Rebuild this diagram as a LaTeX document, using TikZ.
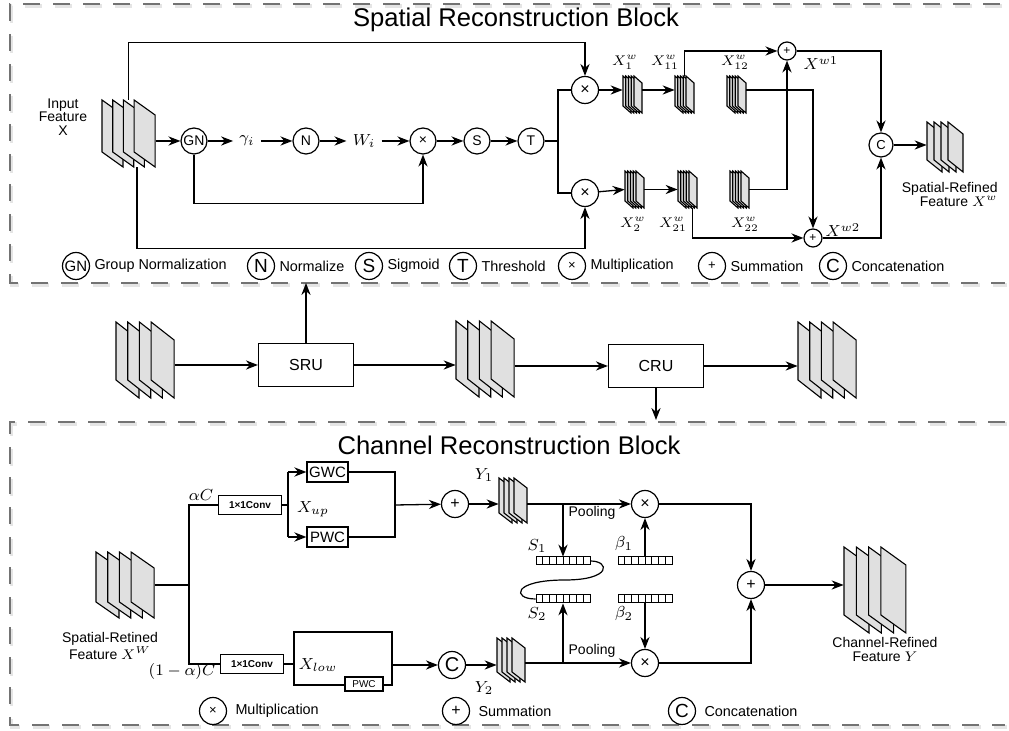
\documentclass[tikz,border=0pt]{standalone}
\usepackage{fontspec}
\setmainfont{Liberation Sans}
\usepackage{tikz}
\usetikzlibrary{positioning,calc,fit,arrows.meta}
\tikzset{
  frame/.style     = {draw=black!55, line width=1pt, dash pattern=on 8.5pt off 6.5pt},
  frameshade/.style= {draw=black!10, line width=1.6pt, dash pattern=on 8.5pt off 6.5pt},
  sheet/.style     = {draw=black, fill=black!12, line width=0.55pt, line join=miter},
  cell/.style      = {draw=black, fill=white, line width=0.5pt},
  box/.style       = {inner sep=0pt, draw=none},
  op/.style        = {circle, draw, line width=0.6pt, minimum size=13pt, inner sep=0pt, font=\fontsize{7}{8}\selectfont},
  opsm/.style      = {op, minimum size=9pt, font=\fontsize{6}{7}\selectfont},
  opb/.style       = {op, minimum size=13.5pt, font=\fontsize{8}{9}\selectfont},
  legop/.style     = {op, minimum size=13.5pt, font=\fontsize{9.5}{10}\selectfont},
  unit/.style      = {draw, line width=0.6pt, minimum width=47.5pt, minimum height=21.5pt, font=\fontsize{8}{9}\selectfont},
  conv/.style      = {draw, line width=0.6pt, minimum width=31.5pt, minimum height=9.5pt, inner sep=0pt, font=\fontsize{5}{6}\selectfont\bfseries},
  wc/.style        = {draw, line width=0.6pt, minimum width=20.5pt, minimum height=10pt, inner sep=0pt, font=\fontsize{7.5}{8}\selectfont},
  lowbox/.style    = {draw, line width=0.6pt, minimum width=49pt, minimum height=26.5pt, inner sep=0pt},
  pwcs/.style      = {draw, fill=white, line width=0.6pt, minimum width=19pt, minimum height=7pt, inner sep=0pt, font=\fontsize{5}{6}\selectfont},
  title/.style     = {font=\fontsize{12.8}{15}\selectfont, inner sep=0pt},
  lbl/.style       = {font=\fontsize{7}{7}\selectfont, align=center, inner sep=0pt},
  mlbl/.style      = {font=\fontsize{8}{9}\selectfont, inner sep=0pt},
  slbl/.style      = {font=\fontsize{7.5}{8}\selectfont, inner sep=0pt},
  flowlbl/.style   = {mlbl, inner sep=3pt},
  leg/.style       = {font=\fontsize{7.2}{8}\selectfont, anchor=west, inner sep=0pt},
  ln/.style        = {line width=0.6pt},
  heavy/.style     = {line width=1.3pt, line join=miter},
  arr/.style       = {-{Stealth[length=6pt,width=4.6pt]}, line width=0.65pt},
}
% stack of feature maps: name, x, y (top left), width, height, slant, count, step
\newcommand{\fmap}[8]{%
  \foreach \k in {1,...,#7} {
    \draw[sheet] ({#2+(\k-1)*#8},#3) -- ++(#4,#6) -- ++(0,#5) -- ++(-#4,-#6) -- cycle;
  }
  \node[box, fit={(#2,#3) ({#2+(#7-1)*#8+#4},{#3+#5+#6})}] (#1) {};%
}
% vector of 8 cells: name, x, y
\newcommand{\vbar}[3]{%
  \foreach \k in {0,...,7} {
    \draw[cell] ({#2+\k*6.75},#3) rectangle ++(6.75,8);
  }
  \node[box, fit={(#2,#3) ({#2+54},{#3+8})}] (#1) {};%
}

\begin{document}
\begin{tikzpicture}[x=0.5pt,y=-0.5pt]
  \useasboundingbox (0,0) rectangle (1009,731);

  % frames
  \draw[frameshade] (1001.5,6) -- (11.5,6) -- (11.5,285) -- (1006.5,285);
  \draw[frameshade] (1006.5,424) -- (11.5,424) -- (11.5,727) -- (1006.5,727);
  \draw[frame] (1000,4) -- (10,4) -- (10,283) -- (1005,283);
  \draw[frame] (1005,422) -- (10,422) -- (10,725) -- (1005,725);

  % ---- spatial reconstruction block ----
  \node[title] (sptitle) at (516,20) {Spatial Reconstruction Block};
  \fmap{inX}{102}{100}{21}{52}{15}{4}{10.7}
  \node[lbl, font=\fontsize{7}{6.6}\selectfont] (inXlbl) at (63,117) {Input\\Feature\\X};
  \node[op] (gn) at (194,141) {GN};
  \node[flowlbl] (gam) at (247,141) {$\gamma_i$};
  \node[op] (nrm) at (306,141) {N};
  \node[flowlbl] (wi) at (364,141) {$W_i$};
  \node[op] (mul) at (423,141) {×};
  \node[op] (sig) at (477,141) {S};
  \node[op] (thr) at (531,141) {T};
  \node[opb] (m1) at (585,90) {×};
  \node[opb] (m2) at (585,193) {×};
  \coordinate (brk) at (558,141);

  \draw[arr] (inX.east |- gn) -- (gn);
  \foreach \a/\b in {gn/gam, gam/nrm, nrm/wi, wi/mul, mul/sig, sig/thr}
    \draw[arr] (\a) -- (\b);
  \draw[arr] (inX.north) -- ++(0,-57) -| (m1);
  \draw[arr] ($(inX.south)+(8.5,0)$) -- ++(0,81) -| (m2);
  \draw[arr] (gn.south) -- ++(0,49) -| (mul);
  \draw[heavy] (thr) -- (brk);
  \draw[heavy] (m1) -| (brk) |- (m2);

  % split maps
  \foreach \nm/\x/\y in {xa/623/76, xaa/675/76, xab/727/76, xb/625/171, xba/678/171, xbb/730/171} {
    \fmap{\nm}{\x}{\y}{8}{30}{7}{5}{2.75}
  }
  \node[slbl] (xalbl) at (625,62) {$X_1^w$};
  \node[slbl] (xaalbl) at (665,62) {$X_{11}^w$};
  \node[slbl] (xablbl) at (735,62) {$X_{12}^w$};
  \node[slbl] (xblbl) at (633,224) {$X_2^w$};
  \node[slbl] (xbalbl) at (673,224) {$X_{21}^w$};
  \node[slbl] (xbblbl) at (745,224) {$X_{22}^w$};
  \draw[arr] (m1) -- (xa.west |- m1);
  \draw[arr] (xa.east |- m1) -- (xaa.west |- m1);
  \draw[arr] (m2) -- (xb.west |- xb);
  \draw[arr] (xb.east |- xb) -- (xba.west |- xb);

  % cross reconstruction
  \node[opsm] (p1) at (787,51) {+};
  \node[opsm] (p2) at (813,238) {+};
  \node[op, minimum size=12pt, font=\fontsize{6.5}{7}\selectfont] (cat) at (881,145) {C};
  \draw[arr] (xaa.north) |- (p1);
  \draw[arr] (xab.east |- m1) -| (p2);
  \draw[arr] (xbb.east |- xb) -| (p1);
  \draw[arr] ($(xba.south)+(5,0)$) |- (p2);
  \draw[arr] (p1) -| (cat);
  \draw[arr] (p2) -| (cat);
  \node[mlbl] (xw1) at (821,63) {$X^{w1}$};
  \node[mlbl] (xw2) at (843,230) {$X^{w2}$};
  \fmap{outX}{927}{122}{15}{38}{12}{4}{7}
  \draw[arr] (cat) -- (outX.west |- cat);
  \node[lbl, align=right, anchor=east] (outXlbl) at (998,195) {Spatial-Refined\\Feature $X^w$};

  % legend
  \foreach \nm/\x/\sym/\txt in {lgn/76/{\fontsize{7.5}{8}\selectfont GN}/{Group Normalization},
      lnrm/261/N/Normalize, lsig/369/S/Sigmoid, lthr/463/T/Threshold,
      lmul/572/{\fontsize{6.5}{7}\selectfont ×}/Multiplication,
      lsum/712/{\fontsize{6.5}{7}\selectfont +}/Summation, lcat/833/C/Concatenation} {
    \node[legop] (\nm) at (\x,266) {\sym};
    \node[leg, right=2pt of \nm] (\nm-t) {\txt};
  }

  % ---- middle: SRU -> CRU ----
  \fmap{fa}{116}{322}{23}{58}{18}{4}{11.7}
  \node[unit] (sru) at (306,365) {SRU};
  \fmap{fb}{456}{321}{23}{58}{18}{4}{11.7}
  \node[unit] (cru) at (656,366) {CRU};
  \fmap{fc}{798}{322}{23}{58}{18}{4}{11.7}
  \coordinate (sruup) at (306,283);
  \coordinate (crudn) at (656,420);
  \draw[arr] (fa.east |- sru) -- (sru);
  \draw[arr] (sru) -- (fb.west |- sru);
  \draw[arr] (fb.east |- cru) -- (cru);
  \draw[arr] (cru) -- (fc.west |- cru);
  \draw[arr] (sru.north) -- (sruup);
  \draw[arr] (cru.south) -- (crudn);

  % ---- channel reconstruction block ----
  \node[title] (chtitle) at (509,445) {Channel Reconstruction Block};
  \fmap{inW}{96}{552}{23}{50}{16}{4}{11.7}
  \node[lbl] (inWlbl) at (110,646) {Spatial-Retined\\Feature $X^W$};
  \coordinate (spl) at (189,585);
  \node[conv] (cv1) at (250,505) {1×1Conv};
  \node[conv] (cv2) at (252,664) {1×1Conv};
  \draw[ln] (inW.east |- spl) -- (spl);
  \draw[ln] (cv1) -| (spl) |- (cv2);
  \node[mlbl] (alc) at (201,495) {$\alpha C$};
  \node[mlbl] (balc) at (182,672) {$(1-\alpha)C$};

  % upper part
  \node[wc] (gwc) at (327.5,472) {GWC};
  \node[wc] (pwc) at (327.5,537) {PWC};
  \coordinate (upspl) at (288,505);
  \coordinate (upjn) at (395,505);
  \draw[heavy] (cv1) -- (upspl);
  \draw[heavy] (upspl |- gwc) -- (upspl |- pwc);
  \draw[heavy, arr, line width=1.3pt] (upspl |- gwc) -- (gwc);
  \draw[heavy, arr, line width=1.3pt] (upspl |- pwc) -- (pwc);
  \draw[heavy] (gwc) -| (upjn) |- (pwc);
  \node[mlbl] (xup) at (313,509) {$X_{up}$};
  \node[opb] (pl1) at (455,504) {+};
  \draw[arr] (upjn) -- (pl1);

  % lower part
  \node[lowbox] (lowb) at (343,658.5) {};
  \node[pwcs] (pwcs) at (364,684) {PWC};
  \node[mlbl] (xlow) at (318,665) {$X_{low}$};
  \draw[ln] (cv2) -- (lowb.west |- cv2);
  \node[opb, font=\fontsize{10}{10}\selectfont] (cat2) at (452,665) {C};
  \draw[arr] (lowb.east |- cat2) -- (cat2);

  % reconstruct
  \fmap{ya}{499}{478}{13}{35}{10}{4}{5}
  \fmap{yb}{497}{638}{13}{34}{10}{4}{5}
  \node[mlbl] (yalbl) at (484,475) {$Y_1$};
  \node[mlbl] (yblbl) at (484,688) {$Y_2$};
  \node[opb] (mu1) at (645,504) {×};
  \node[opb] (mu2) at (645,663) {×};
  \draw[arr] (pl1) -- (ya.west |- pl1);
  \draw[arr] (cat2) -- (yb.west |- cat2);
  \draw[arr] (ya.east |- mu1) -- (mu1);
  \draw[arr] (yb.east |- mu2) -- (mu2);
  \vbar{s1}{536}{557}
  \vbar{b1}{618}{557}
  \vbar{s2}{536}{595}
  \vbar{b2}{618}{595}
  \node[mlbl] (s1lbl) at (537,546) {$S_1$};
  \node[mlbl] (b1lbl) at (624,544) {$\beta_1$};
  \node[mlbl] (s2lbl) at (537,614) {$S_2$};
  \node[mlbl] (b2lbl) at (624,614) {$\beta_2$};
  \node[lbl] (pool1) at (592,513) {Pooling};
  \node[lbl] (pool2) at (592,651) {Pooling};
  \draw[arr] (s1.north |- mu1) -- (s1.north);
  \draw[arr] (s2.south |- mu2) -- (s2.south);
  \draw[arr] (b1.north) -- (mu1);
  \draw[arr] (b2.south) -- (mu2);
  \draw[ln] (s1.east) .. controls (610,561) and (612,580) .. (565,580) .. controls (512,580) and (512,599) .. (s2.west);
  \node[opb] (pl2) at (751,585) {+};
  \draw[arr] (mu1) -| (pl2);
  \draw[arr] (mu2) -| (pl2);
  \fmap{outY}{844}{547}{25}{68}{18}{4}{12.3}
  \draw[arr] (pl2) -- (outY.west |- pl2);
  \node[lbl] (outYlbl) at (885,650) {Channel-Refined\\Feature $Y$};

  % legend
  \foreach \nm/\x/\sym/\txt in {bmul/213/{\fontsize{6.5}{7}\selectfont ×}/Multiplication,
      bsum/456/{\fontsize{8}{8}\selectfont +}/Summation, bcat/682/C/Concatenation} {
    \node[legop] (\nm) at (\x,711) {\sym};
    \node[leg, right=4pt of \nm] (\nm-t) {\txt};
  }
\end{tikzpicture}
\end{document}
